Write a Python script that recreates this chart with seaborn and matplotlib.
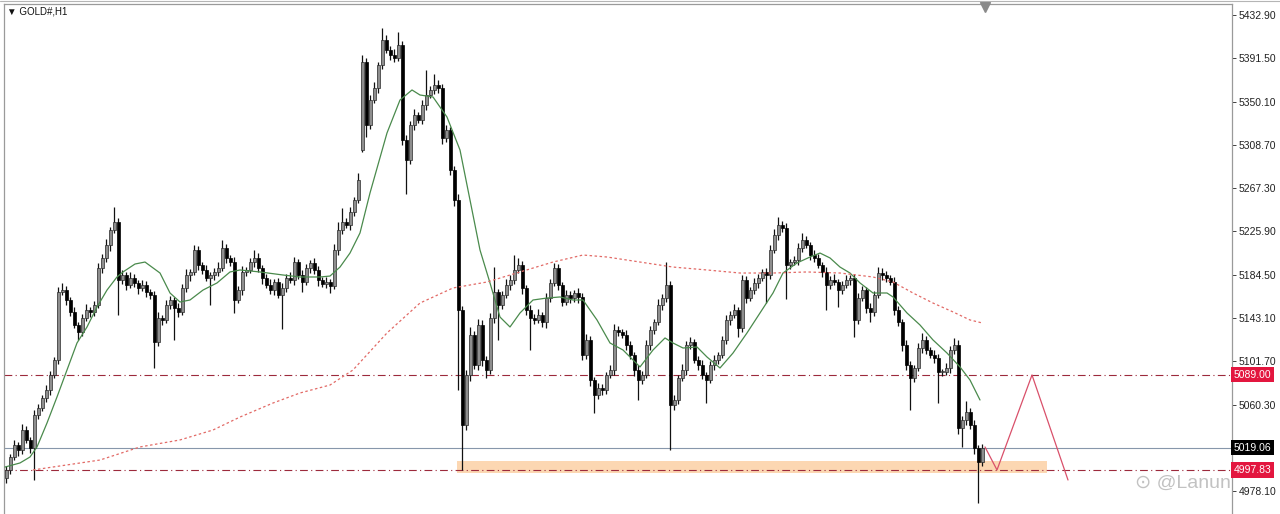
import numpy as np
import pandas as pd
import seaborn as sns
import matplotlib.pyplot as plt
import matplotlib.transforms as mtransforms
from matplotlib.patches import Rectangle
from matplotlib.lines import Line2D

# GOLD#, H1 candles, left to right (one per bar)
closes = [
    4997.9, 5010.3, 5021.8, 5017.0, 5036.1, 5026.6, 5018.9, 5050.5, 5057.2, 5066.7,
    5074.4, 5088.7, 5103.0, 5168.0, 5169.9, 5160.4, 5148.9, 5136.5, 5129.8, 5143.2,
    5150.8, 5148.9, 5155.6, 5191.0, 5200.6, 5213.0, 5227.3, 5235.0, 5179.5, 5184.3,
    5174.7, 5181.4, 5176.7, 5171.9, 5174.7, 5168.0, 5165.2, 5120.2, 5143.2, 5141.3,
    5155.6, 5160.4, 5152.8, 5148.9, 5171.9, 5184.3, 5187.2, 5208.2, 5193.9, 5189.1,
    5181.4, 5184.3, 5187.2, 5191.0, 5210.1, 5200.6, 5196.7, 5160.4, 5169.9, 5187.2,
    5189.1, 5196.7, 5200.6, 5191.0, 5181.4, 5174.7, 5169.9, 5177.6, 5165.2, 5171.9,
    5181.4, 5179.5, 5196.7, 5184.3, 5177.6, 5191.0, 5195.8, 5189.1, 5179.5, 5175.7,
    5177.6, 5173.8, 5208.2, 5227.3, 5235.0, 5232.1, 5244.5, 5256.0, 5275.1, 5387.9,
    5327.7, 5351.6, 5363.1, 5385.1, 5409.0, 5399.4, 5394.6, 5391.8, 5404.2, 5313.4,
    5294.2, 5327.7, 5337.3, 5332.5, 5346.8, 5356.4, 5361.2, 5365.9, 5363.1, 5315.3,
    5323.0, 5284.7, 5256.0, 5150.8, 5040.9, 5088.7, 5127.0, 5098.3, 5136.5, 5103.0,
    5093.5, 5143.2, 5168.0, 5155.6, 5165.2, 5174.7, 5179.5, 5189.1, 5193.9, 5171.9,
    5150.8, 5143.2, 5141.3, 5146.1, 5139.4, 5162.3, 5176.7, 5191.0, 5174.7, 5158.5,
    5165.2, 5162.3, 5167.1, 5163.3, 5107.8, 5122.2, 5083.9, 5069.6, 5076.3, 5074.4,
    5088.7, 5093.5, 5131.7, 5129.8, 5127.0, 5117.4, 5107.8, 5093.5, 5083.9, 5088.7,
    5117.4, 5131.7, 5139.4, 5155.6, 5162.3, 5174.7, 5060.0, 5064.8, 5085.8, 5093.5,
    5117.4, 5120.2, 5103.0, 5098.3, 5088.7, 5083.9, 5098.3, 5103.0, 5107.8, 5122.2,
    5141.3, 5146.1, 5150.8, 5133.6, 5179.5, 5162.3, 5169.9, 5176.7, 5181.4, 5187.2,
    5184.3, 5208.2, 5222.5, 5232.1, 5229.2, 5193.9, 5196.7, 5198.6, 5210.1, 5217.8,
    5213.0, 5203.4, 5200.6, 5193.9, 5187.2, 5174.7, 5179.5, 5177.6, 5169.9, 5174.7,
    5179.5, 5181.4, 5141.3, 5162.3, 5169.9, 5152.8, 5148.9, 5165.2, 5186.2, 5184.3,
    5181.4, 5177.6, 5150.8, 5139.4, 5117.4, 5098.3, 5085.8, 5095.4, 5114.5, 5122.2,
    5112.6, 5107.8, 5104.9, 5091.6, 5091.6, 5095.4, 5112.6, 5117.4, 5038.0, 5045.7,
    5053.3, 5040.9, 5018.9, 5005.5, 5019.06,
]

# wick lengths above / below the body, in dollars
upper_wick = [
    4, 3, 5, 3, 6, 4, 3, 5, 4, 3,
    5, 4, 3, 5, 7, 4, 3, 5, 3, 4,
    6, 3, 4, 5, 4, 6, 3, 14, 4, 5,
    3, 6, 4, 3, 5, 4, 3, 4, 6, 3,
    5, 4, 3, 5, 4, 6, 3, 5, 4, 3,
    5, 3, 4, 6, 8, 4, 3, 5, 4, 6,
    3, 4, 8, 5, 3, 4, 6, 3, 4, 5,
    4, 6, 5, 3, 5, 4, 3, 5, 4, 3,
    5, 3, 6, 8, 13, 4, 5, 3, 7, 7,
    4, 5, 6, 3, 11, 5, 4, 6, 12, 4,
    5, 4, 6, 3, 5, 24, 4, 11, 5, 4,
    5, 3, 4, 6, 4, 5, 8, 4, 6, 5,
    4, 5, 24, 3, 4, 6, 5, 14, 7, 4,
    3, 5, 4, 6, 3, 5, 4, 5, 4, 3,
    5, 4, 3, 5, 4, 6, 4, 3, 5, 4,
    3, 5, 6, 4, 3, 5, 4, 3, 5, 4,
    5, 4, 3, 6, 4, 22, 4, 5, 3, 6,
    4, 5, 3, 4, 5, 3, 4, 5, 3, 4,
    5, 4, 6, 3, 5, 4, 3, 5, 4, 3,
    4, 5, 6, 8, 4, 5, 3, 4, 5, 7,
    4, 3, 5, 4, 3, 5, 4, 6, 3, 4,
    5, 3, 4, 5, 4, 3, 5, 4, 6, 5,
    4, 3, 5, 4, 3, 5, 4, 3, 5, 7,
    4, 3, 5, 4, 3, 5, 4, 7, 5, 4,
    11, 4, 5, 3, 4,
]
lower_wick = [
    5, 4, 3, 6, 4, 3, 5, 31, 4, 3,
    4, 5, 3, 4, 3, 5, 4, 3, 8, 4,
    3, 5, 4, 3, 5, 4, 6, 3, 33, 4,
    5, 3, 4, 6, 3, 5, 4, 25, 4, 5,
    3, 4, 31, 5, 3, 4, 6, 3, 5, 4,
    3, 26, 5, 4, 3, 5, 4, 12, 3, 5,
    4, 3, 5, 4, 6, 3, 4, 5, 3, 33,
    4, 3, 5, 4, 10, 3, 5, 4, 6, 3,
    4, 7, 3, 5, 4, 3, 5, 4, 3, 2,
    11, 4, 3, 5, 4, 3, 5, 4, 3, 5,
    32, 4, 5, 3, 4, 5, 3, 4, 5, 6,
    4, 5, 6, 76, 43, 5, 6, 4, 5, 6,
    8, 4, 5, 33, 4, 3, 5, 4, 3, 6,
    5, 31, 4, 3, 5, 6, 4, 3, 5, 4,
    3, 5, 4, 6, 5, 4, 6, 17, 4, 5,
    4, 3, 5, 4, 3, 5, 4, 6, 19, 4,
    3, 5, 4, 3, 5, 4, 43, 5, 4, 3,
    5, 4, 3, 5, 4, 22, 3, 5, 4, 3,
    4, 5, 3, 9, 4, 5, 3, 4, 5, 3,
    27, 4, 3, 5, 4, 33, 4, 3, 5, 4,
    3, 5, 4, 3, 5, 24, 4, 3, 16, 4,
    3, 5, 16, 4, 3, 5, 10, 4, 3, 5,
    4, 3, 5, 4, 6, 5, 31, 4, 3, 5,
    4, 3, 5, 30, 4, 3, 5, 4, 6, 18,
    5, 4, 6, 39, 4,
]
first_open = 4990.2
gap_opens = {89: 5303.8}  # weekend gap

# moving averages as drawn on the chart (bar index, price)
ma_fast_bar = [-0.25, 3.5, 6, 7.75, 10.25, 12.75, 15.25, 17.75, 20.25, 22.75,
               25.25, 27.75, 29.25, 32.25, 34.75, 38.5, 41, 43.5, 46, 49.25,
               52.75, 56, 58.5, 63.5, 69.25, 73.5, 78.5, 81, 83.5, 86,
               88.5, 91, 95.25, 98.5, 101.5, 103.5, 106.75, 110.25, 113.5, 116,
               118.5, 121, 123.5, 126, 128.5, 131.75, 135.25, 138.5, 141.75, 144.25,
               147.75, 151, 154.25, 158.5, 161.75, 164.75, 166.75, 169.25, 172.75, 175.25,
               178.5, 181.75, 185.25, 188.5, 191.75, 194.25, 197.75, 201, 203.5, 206,
               208.5, 211, 213.5, 216.75, 220.25, 221.75, 225.25, 228.5, 231.75, 235.25,
               238.5, 241, 243.5]
ma_fast_val = [5000.7, 5004.6, 5010.3, 5019.9, 5042.8, 5067.7, 5093.5, 5119.3, 5134.6, 5153.7,
               5169.9, 5182.4, 5187.2, 5194.8, 5196.7, 5186.2, 5167.1, 5158.5, 5160.4, 5169.9,
               5176.7, 5187.2, 5189.1, 5187.2, 5184.3, 5182.4, 5182.4, 5183.3, 5191.9, 5205.3,
               5224.5, 5262.7, 5320.1, 5351.6, 5361.2, 5356.4, 5354.5, 5335.3, 5303.8, 5256.0,
               5208.2, 5176.7, 5144.1, 5134.6, 5148.0, 5160.4, 5162.3, 5163.3, 5160.4, 5160.4,
               5141.3, 5119.3, 5112.6, 5096.4, 5112.6, 5124.1, 5119.3, 5114.5, 5115.5, 5105.9,
               5095.4, 5109.7, 5128.9, 5148.0, 5167.1, 5186.2, 5195.8, 5201.5, 5205.3, 5200.6,
               5191.9, 5186.2, 5176.7, 5167.1, 5167.1, 5163.3, 5148.0, 5136.5, 5122.2, 5109.7,
               5096.4, 5083.9, 5064.8]
ma_slow_bar = [6.75, 23.5, 33.5, 43.5, 51.75, 58.5, 66.75, 73.5, 81, 86.75,
               95.25, 103.5, 111.75, 120.25, 128.5, 136.75, 144.25, 150.25, 158.5, 166.75,
               175.25, 183.5, 191.75, 200.25, 208.5, 216.75, 221.75, 226.75, 231.75, 236.75,
               241, 244]
ma_slow_val = [4997.9, 5007.4, 5019.9, 5026.6, 5036.1, 5048.5, 5061.9, 5071.5, 5079.1, 5093.5,
               5128.9, 5157.5, 5171.9, 5177.6, 5187.2, 5196.7, 5203.4, 5201.5, 5196.7, 5191.9,
               5189.1, 5186.2, 5186.2, 5187.2, 5186.2, 5182.4, 5177.6, 5167.1, 5157.5, 5149.0,
               5141.3, 5138.5]

# horizontal levels and the marked zone
resistance = 5089.00
last_price = 5019.06
support = 4997.83
zone_low, zone_high = 4995.0, 5006.5
zone_start, zone_end = 112.75, 260.25

# projected path drawn to the right of the last bar
path_bar = [244.75, 247.75, 256.5, 265.5]
path_val = [5019.9, 4997.9, 5088.7, 4988.3]

price_ticks = [5432.90, 5391.50, 5350.10, 5308.70, 5267.30, 5225.90,
               5184.50, 5143.10, 5101.70, 5060.30, 4978.10]

# build OHLC table
df = pd.DataFrame({"close": closes})
df["open"] = df["close"].shift(1)
df.loc[0, "open"] = first_open
for i, v in gap_opens.items():
    df.loc[i, "open"] = v
df["top"] = df[["open", "close"]].max(axis=1)
df["bottom"] = df[["open", "close"]].min(axis=1)
df["high"] = df["top"] + np.array(upper_wick)
df["low"] = df["bottom"] - np.array(lower_wick)
df["bar"] = np.arange(len(df))
df["bull"] = df["close"] >= df["open"]
df["body"] = (df["top"] - df["bottom"]).clip(lower=0.6)

sns.set_style("white")
plt.rcParams["font.family"] = ["Liberation Sans", "DejaVu Sans"]

fig = plt.figure(figsize=(12.8, 5.14), dpi=100)
ax = fig.add_axes([4 / 1280, 0, 1228 / 1280, 510 / 514])
ax.set_xlim(-0.5, 306.5)
ax.set_ylim(4955.8, 5443.4)

# double frame line along the top of the window
fig.add_artist(Line2D([0, 1], [1 - 1 / 514, 1 - 1 / 514], color="#b5b5b5", lw=0.8))

# zone behind the candles
ax.add_patch(Rectangle((zone_start, zone_low), zone_end - zone_start, zone_high - zone_low,
                       facecolor="#fcd3aa", edgecolor="none", alpha=0.9, zorder=1))

# levels
ax.axhline(resistance, color="#9c2a3c", lw=0.8, ls=(0, (7, 3, 1, 3)), zorder=2)
ax.axhline(support, color="#9c2a3c", lw=0.8, ls=(0, (7, 3, 1, 3)), zorder=2)
ax.axhline(last_price, color="#8797ab", lw=0.8, zorder=2)

# candles
ax.vlines(df["bar"], df["low"], df["high"], color="#111111", lw=0.9, zorder=3)
bull = df[df["bull"]]
bear = df[~df["bull"]]
ax.bar(bull["bar"], bull["body"], bottom=bull["bottom"], width=0.75,
       color="#8e8e8e", edgecolor="#2a2a2a", linewidth=0.5, zorder=4)
ax.bar(bear["bar"], bear["body"], bottom=bear["bottom"], width=0.75,
       color="black", edgecolor="black", linewidth=0.5, zorder=4)

# moving averages
sns.lineplot(x=ma_fast_bar, y=ma_fast_val, ax=ax, color="#4a8a4c", lw=0.9,
             estimator=None, sort=False, zorder=5)
sns.lineplot(x=ma_slow_bar, y=ma_slow_val, ax=ax, color="#e26a66", lw=0.9,
             linestyle=(0, (2, 2)), estimator=None, sort=False, zorder=5)

# projected zigzag
ax.plot(path_bar, path_val, color="#d9506a", lw=0.9, zorder=5)

# chart-shift marker at the top
ax.plot([244.75], [5441.0], marker="v", ms=7, color="#8a8a8a", clip_on=False, zorder=6)

# axes look
ax.set_xticks([])
ax.yaxis.tick_right()
ax.set_yticks(price_ticks)
ax.set_yticklabels([f"{t:.2f}" for t in price_ticks])
ax.tick_params(axis="y", which="both", right=True, labelright=True, left=False,
               labelleft=False, labelsize=7.5, colors="#222222", length=3,
               width=0.6, pad=2, direction="out")
for side in ["left", "top", "right"]:
    ax.spines[side].set_color("#9a9a9a")
    ax.spines[side].set_linewidth(0.9)
ax.spines["bottom"].set_visible(False)

# price boxes on the axis
trans = mtransforms.blended_transform_factory(ax.transAxes, ax.transData)
for val, fc in [(resistance, "#e3163f"), (last_price, "black"), (support, "#e3163f")]:
    ax.text(1.0016, val, f"{val:.2f}", transform=trans, ha="left", va="center",
            fontsize=7.5, color="white", clip_on=False, zorder=10,
            bbox=dict(boxstyle="square,pad=0.25", fc=fc, ec="none"))

# header and watermark
fig.text(7 / 1280, 1 - 11 / 514, "▼ GOLD#,H1", fontsize=7, color="#111111", va="center")
fig.text(1135 / 1280, 1 - 483 / 514, "⊙ @Lanun", fontsize=14, color="#9a9a9a",
         alpha=0.6, va="center")

plt.savefig("out.png", dpi=100)
